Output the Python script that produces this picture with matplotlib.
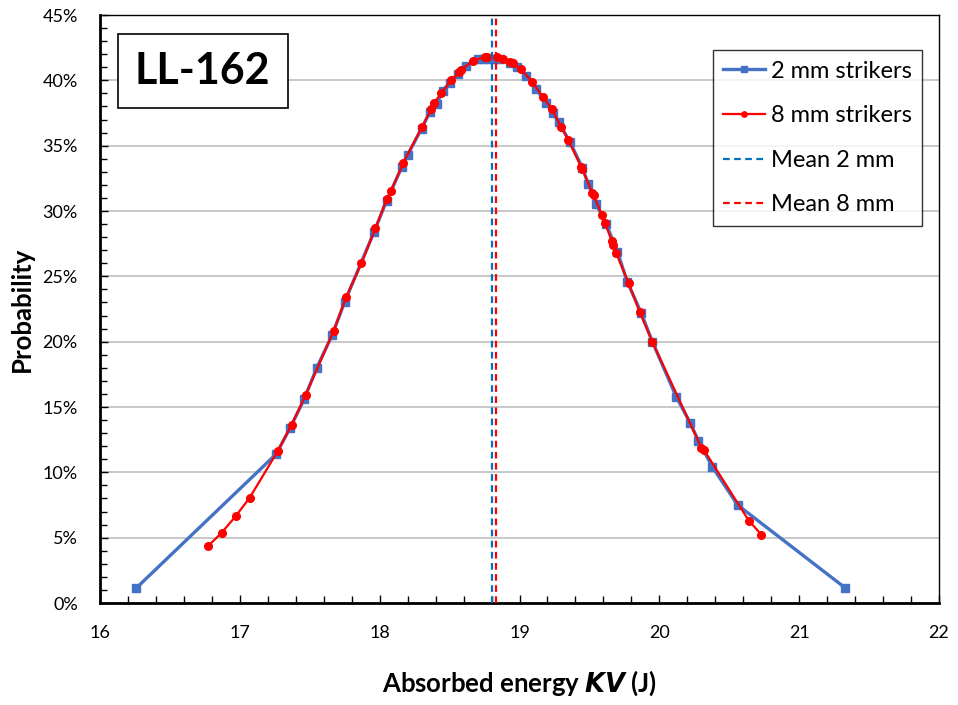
import matplotlib
matplotlib.use("Agg")
import matplotlib.pyplot as plt
from matplotlib.ticker import MultipleLocator, PercentFormatter

plt.rcParams['font.family'] = ['Lato', 'DejaVu Sans']

# 2 mm strikers
kv_2mm = [16.26, 17.26, 17.36, 17.46, 17.55, 17.66, 17.75, 17.96, 18.05, 18.16,
          18.20, 18.30, 18.36, 18.41, 18.45, 18.50, 18.56, 18.62, 18.70, 18.74,
          18.78, 18.82, 18.86, 18.93, 18.98, 19.05, 19.12, 19.19, 19.24, 19.28,
          19.36, 19.45, 19.49, 19.55, 19.62, 19.70, 19.77, 19.87, 19.95, 20.12,
          20.22, 20.28, 20.38, 20.56, 21.33]
p_2mm = [1.15, 11.4, 13.4, 15.6, 18.0, 20.5, 23.05, 28.4, 30.8, 33.4,
         34.3, 36.3, 37.6, 38.2, 39.2, 39.8, 40.5, 41.1, 41.6, 41.65,
         41.65, 41.65, 41.6, 41.3, 41.0, 40.3, 39.3, 38.3, 37.5, 36.8,
         35.3, 33.3, 32.1, 30.5, 29.0, 26.9, 24.6, 22.2, 20.0, 15.8,
         13.8, 12.4, 10.4, 7.5, 1.15]

# 8 mm strikers
kv_8mm = [16.77, 16.87, 16.97, 17.07, 17.27, 17.37, 17.47, 17.67, 17.76, 17.87,
          17.97, 18.05, 18.08, 18.17, 18.30, 18.37, 18.39, 18.44, 18.51, 18.57,
          18.58, 18.67, 18.75, 18.77, 18.84, 18.88, 18.93, 18.95, 19.01, 19.09,
          19.17, 19.23, 19.30, 19.35, 19.44, 19.45, 19.52, 19.53, 19.59, 19.61,
          19.66, 19.67, 19.69, 19.78, 19.86, 19.95, 20.30, 20.32, 20.64, 20.73]
p_8mm = [4.33, 5.38, 6.64, 8.05, 11.6, 13.64, 15.9, 20.8, 23.4, 26.0,
         28.7, 30.9, 31.5, 33.7, 36.4, 37.8, 38.3, 39.0, 40.0, 40.6,
         40.8, 41.5, 41.8, 41.8, 41.8, 41.6, 41.4, 41.3, 40.85, 39.9,
         38.7, 37.8, 36.4, 35.4, 33.4, 33.2, 31.4, 31.2, 29.7, 29.1,
         27.7, 27.4, 26.8, 24.5, 22.25, 20.0, 11.9, 11.7, 6.3, 5.23]

mean_2mm = 18.80
mean_8mm = 18.83

fig = plt.figure(figsize=(9.58, 7.05), dpi=100)
ax = fig.add_axes([100/958, 1 - 603/705, 839/958, 588/705])

ax.plot(kv_2mm, p_2mm, color='#4472C4', lw=2.4, marker='s', ms=6,
        label='2 mm strikers', zorder=3)
ax.plot(kv_8mm, p_8mm, color='#FF0000', lw=1.6, marker='o', ms=5.5,
        label='8 mm strikers', zorder=4)
ax.plot([mean_2mm, mean_2mm], [0, 45], color='#0070C0', lw=1.6,
        ls=(0, (3, 2)), label='Mean 2 mm', zorder=5)
ax.plot([mean_8mm, mean_8mm], [0, 45], color='#FF0000', lw=1.6,
        ls=(0, (3, 2)), label='Mean 8 mm', zorder=5)

ax.set_xlim(16, 22)
ax.set_ylim(0, 45)
ax.xaxis.set_major_locator(MultipleLocator(1))
ax.xaxis.set_minor_locator(MultipleLocator(0.2))
ax.yaxis.set_major_locator(MultipleLocator(5))
ax.yaxis.set_minor_locator(MultipleLocator(1))
ax.yaxis.set_major_formatter(PercentFormatter(decimals=0))
ax.tick_params(which='both', direction='in', labelsize=13, color='black')
ax.tick_params(which='major', length=6, width=1)
ax.tick_params(which='minor', length=5, width=1)
ax.tick_params(axis='x', pad=16)
ax.tick_params(axis='y', pad=16)
ax.grid(axis='y', which='major', color='#BFBFBF', lw=1.2)
ax.set_axisbelow(True)
for s in ['left', 'bottom']:
    ax.spines[s].set_linewidth(2)
for s in ['top', 'right']:
    ax.spines[s].set_linewidth(1)

ax.set_xlabel('Absorbed energy $\\bfit{KV}$ (J)', fontsize=18.5, fontweight='bold',
              labelpad=20)
ax.set_ylabel('Probability', fontsize=18.5, fontweight='bold', labelpad=6)

leg = ax.legend(loc='upper right', bbox_to_anchor=(0.98, 0.9405), fontsize=17,
                frameon=True, fancybox=False, edgecolor='black',
                handlelength=1.75, handletextpad=0.25, labelspacing=1.0,
                borderpad=0.45, borderaxespad=0, markerscale=0.7)
leg.get_frame().set_linewidth(1)

ax.text(0.1225, 0.905, 'LL-162', transform=ax.transAxes, fontsize=31,
        fontweight='bold', ha='center', va='center',
        bbox=dict(boxstyle='square,pad=0.4', fc='white', ec='black', lw=1.2))

plt.savefig('out.png', dpi=100)
